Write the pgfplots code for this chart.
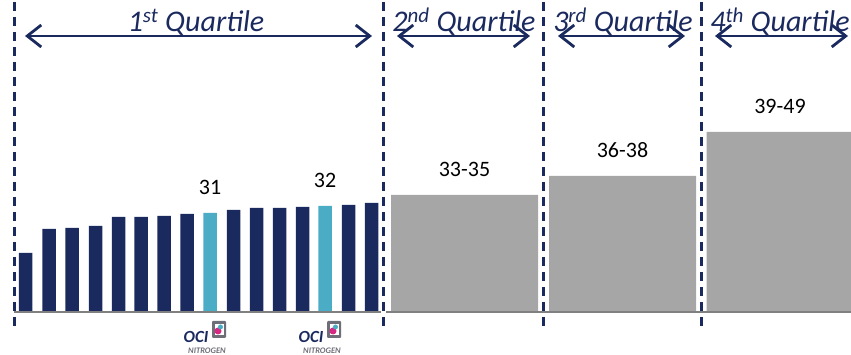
\documentclass[border=0pt]{standalone}
\usepackage{fontspec}
\setmainfont{Carlito}
\usepackage{pgfplots}
\pgfplotsset{compat=1.18}
\usetikzlibrary{arrows.meta}
\definecolor{navy}{RGB}{27,42,94}
\definecolor{cyanbar}{RGB}{75,172,198}
\definecolor{graybar}{RGB}{166,166,166}
\definecolor{basegray}{RGB}{128,128,128}
\definecolor{ocipink}{RGB}{214,40,130}
\definecolor{ocigray}{RGB}{110,110,120}
\begin{document}
\begin{tikzpicture}
\begin{axis}[
  scale only axis, width=851pt, height=355pt,
  xmin=0, xmax=851, ymin=-43, ymax=312,
  hide axis, clip=false,
  ybar, bar shift=0pt,
  nodes near coords style={font=\fontsize{22}{22}\selectfont, text=black, anchor=base, yshift=18pt},
]
% first quartile, navy bars
\addplot[fill=navy, draw=none, bar width=13.5] coordinates {
 (25.5,59) (49,83) (72,84) (95.5,86) (118.5,95) (141,95) (164,96) (187,98)
 (233.5,102) (256.5,104) (279.5,104) (302.5,105) (348.5,107) (371.5,109)};
% OCI bars
\addplot[fill=cyanbar, draw=none, bar width=13.5, nodes near coords, point meta=explicit symbolic]
 table[meta=label] {
 x y label
 210 99 31
 325 106 32
 };
% other quartiles
\addplot[fill=graybar, draw=none, bar width=147, nodes near coords, point meta=explicit symbolic]
 table[meta=label] {
 x y label
 464.5 117 33-35
 622.5 136 36-38
 780 180 39-49
 };
% baseline
\draw[basegray, line width=2.2pt] (axis cs:14,0) -- (axis cs:381,0);
\draw[basegray, line width=2.2pt] (axis cs:386,0) -- (axis cs:851,0);
% dashed separators
\pgfplotsinvokeforeach{14,383,543,701}{
  \draw[navy, line width=3pt, dash pattern=on 9pt off 6pt] (axis cs:#1,310) -- (axis cs:#1,-18);
}
% arrows
\tikzset{qarr/.style={navy, line width=2.8pt, {Straight Barb[length=14pt,width=22pt,line width=2.8pt]}-{Straight Barb[length=14pt,width=22pt,line width=2.8pt]}}}
\draw[qarr] (axis cs:25,276) -- (axis cs:372,276);
\draw[qarr] (axis cs:397,276) -- (axis cs:530,276);
\draw[qarr] (axis cs:558,276) -- (axis cs:685,276);
\draw[qarr] (axis cs:715,276) -- (axis cs:848,276);
\tikzset{qtxt/.style={anchor=base, text=navy, font=\fontsize{30}{30}\selectfont\itshape, inner sep=0pt}}
\node[qtxt] at (axis cs:196,280) {1\textsuperscript{st} Quartile};
\node[qtxt] at (axis cs:464,280) {2\textsuperscript{nd} Quartile};
\node[qtxt] at (axis cs:623,280) {3\textsuperscript{rd} Quartile};
\node[qtxt] at (axis cs:780,280) {4\textsuperscript{th} Quartile};
% OCI Nitrogen logos
\pgfplotsinvokeforeach{210,325}{
  \node[anchor=base, text=navy, font=\fontsize{17}{17}\selectfont\bfseries\itshape, inner sep=0pt] at (axis cs:#1-14,-30.5) {OCI};
  \fill[ocigray, rounded corners=1pt] (axis cs:#1+2,-9) rectangle (axis cs:#1+16,-26);
  \fill[white] (axis cs:#1+4.5,-12) rectangle (axis cs:#1+13.5,-23);
  \fill[ocipink] (axis cs:#1+8,-19) circle[radius=3.5pt];
  \fill[cyanbar] (axis cs:#1+10.5,-15) circle[radius=2.5pt];
  \node[anchor=base, text=ocigray, font=\fontsize{8.5}{8.5}\selectfont\bfseries\itshape, inner sep=0pt] at (axis cs:#1-3,-42) {NITROGEN};
}
\end{axis}
\pgfresetboundingbox
\path (current axis.south west) rectangle (current axis.north east);
\end{tikzpicture}
\end{document}
